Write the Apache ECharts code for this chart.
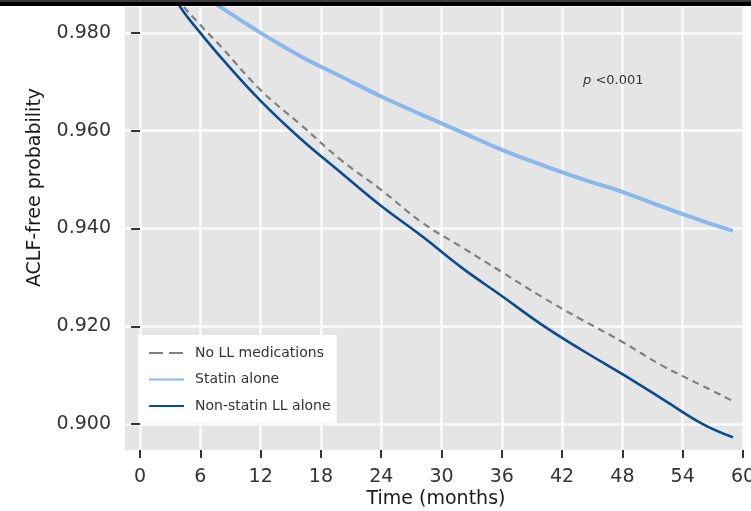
<!DOCTYPE html>
<html>
<head>
<meta charset="utf-8">
<script src="https://cdn.jsdelivr.net/npm/echarts@6/dist/echarts.min.js"></script>
<style>
  html, body { margin: 0; padding: 0; background: #fff; }
  #main { width: 751px; height: 511px; }
</style>
</head>
<body>
<div id="main"></div>
<script>
// curve readings (months, probability)
var seriesNames = ['No LL medications', 'Statin alone', 'Non-statin LL alone'];

var tNone = [0, 2, 4, 6, 8, 12, 16, 20, 24, 28, 32, 36, 40, 44, 48, 52, 56, 58.8];
var vNone = [1.0, 0.9928, 0.9863, 0.9816, 0.9773, 0.9683, 0.9612, 0.9540, 0.9479, 0.9413, 0.9362, 0.9311, 0.9260, 0.9213, 0.9168, 0.9119, 0.9078, 0.9049];

var tStatin = [0, 2, 4, 6, 8, 12, 16, 20, 24, 28, 32, 36, 40, 44, 48, 52, 56, 59];
var vStatin = [1.0, 0.9955, 0.9915, 0.9882, 0.9853, 0.9800, 0.9752, 0.9711, 0.9670, 0.9633, 0.9597, 0.9561, 0.9530, 0.9501, 0.9475, 0.9444, 0.9415, 0.9395];

var tNonStatin = [0, 2, 4, 6, 8, 12, 16, 20, 24, 28, 32, 36, 40, 44, 48, 52, 56, 59];
var vNonStatin = [1.0, 0.9925, 0.9853, 0.9800, 0.9751, 0.9661, 0.9583, 0.9514, 0.9446, 0.9385, 0.9320, 0.9262, 0.9203, 0.9151, 0.9102, 0.9051, 0.9000, 0.8973];

var xTicks = [0, 6, 12, 18, 24, 30, 36, 42, 48, 54, 60];
var yTicks = [0.90, 0.92, 0.94, 0.96, 0.98];

function pairs(t, v) {
    var res = [];
    for (var i = 0; i < t.length; i++) res.push([t[i], v[i]]);
    return res;
}

var chartDom = document.getElementById('main');
var myChart = echarts.init(chartDom, null, {renderer: 'canvas'});
var font = '"DejaVu Sans", Verdana, sans-serif';

var option = {
    animation: false,
    backgroundColor: '#ffffff',
    grid: {
        left: 125, right: 8, top: 7, bottom: 61,
        outerBoundsMode: 'none',
        containLabel: false,
        show: true,
        backgroundColor: '#e5e5e5',
        borderWidth: 0
    },
    xAxis: {
        type: 'value',
        min: -1.5,
        max: 60,
        axisLine: {show: false},
        axisTick: {show: true, length: 8, customValues: xTicks, lineStyle: {color: '#333', width: 2}},
        axisLabel: {customValues: xTicks, fontFamily: font, fontSize: 19, color: '#333', margin: 18},
        splitLine: {show: true, lineStyle: {color: '#fbfbfb', width: 2.5}}
    },
    yAxis: {
        type: 'value',
        min: 0.8947,
        max: 0.9853,
        axisLine: {show: false},
        axisTick: {show: true, length: 9, customValues: yTicks, lineStyle: {color: '#333', width: 2}},
        axisLabel: {
            customValues: yTicks,
            fontFamily: font, fontSize: 19, color: '#333', margin: 14,
            formatter: function (v) { return v.toFixed(3); }
        },
        splitLine: {show: true, lineStyle: {color: '#fbfbfb', width: 2.5}}
    },
    legend: {
        left: 138,
        top: 335,
        orient: 'vertical',
        backgroundColor: '#ffffff',
        padding: [11, 6, 10, 10],
        itemWidth: 35,
        itemHeight: 14,
        itemGap: 12.5,
        itemStyle: {color: 'rgba(0,0,0,0)', borderWidth: 0, opacity: 0},
        textStyle: {fontFamily: font, fontSize: 14, color: '#333', padding: [0, 0, 0, 6]},
        data: [
            {name: seriesNames[0], lineStyle: {type: [14, 6]}},
            {name: seriesNames[1]},
            {name: seriesNames[2]}
        ]
    },
    graphic: [
        {type: 'rect', z: 50, shape: {x: 0, y: 0, width: 751, height: 2}, style: {fill: '#3c3c3c'}},
        {type: 'rect', z: 50, shape: {x: 0, y: 2, width: 751, height: 4}, style: {fill: '#000000'}},
        {
            type: 'text', z: 50, x: 35, y: 187.5, rotation: Math.PI / 2,
            style: {text: 'ACLF-free probability', fontFamily: font, fontSize: 19, fill: '#1a1a1a', align: 'center', verticalAlign: 'middle'}
        },
        {
            type: 'text', z: 50, x: 436, y: 499,
            style: {text: 'Time (months)', fontFamily: font, fontSize: 19, fill: '#1a1a1a', align: 'center', verticalAlign: 'middle'}
        },
        {
            type: 'text', z: 50, x: 583, y: 81,
            style: {
                text: '{p|p} <0.001', fontFamily: font, fontSize: 13, fill: '#333', verticalAlign: 'middle',
                rich: {p: {fontStyle: 'italic', fontFamily: font, fontSize: 13, fill: '#333'}}
            }
        }
    ],
    series: [
        {
            name: seriesNames[0], type: 'line', symbol: 'none', smooth: 0.4,
            data: pairs(tNone, vNone),
            itemStyle: {color: '#808080'},
            lineStyle: {color: '#808080', width: 2.2, type: [7, 5]}
        },
        {
            name: seriesNames[1], type: 'line', symbol: 'none', smooth: 0.4,
            data: pairs(tStatin, vStatin),
            itemStyle: {color: '#8ab8ea'},
            lineStyle: {color: '#8ab8ea', width: 4}
        },
        {
            name: seriesNames[2], type: 'line', symbol: 'none', smooth: 0.4,
            data: pairs(tNonStatin, vNonStatin),
            itemStyle: {color: '#0b4c8c'},
            lineStyle: {color: '#0b4c8c', width: 2.6}
        }
    ]
};

option && myChart.setOption(option);
</script>
</body>
</html>
